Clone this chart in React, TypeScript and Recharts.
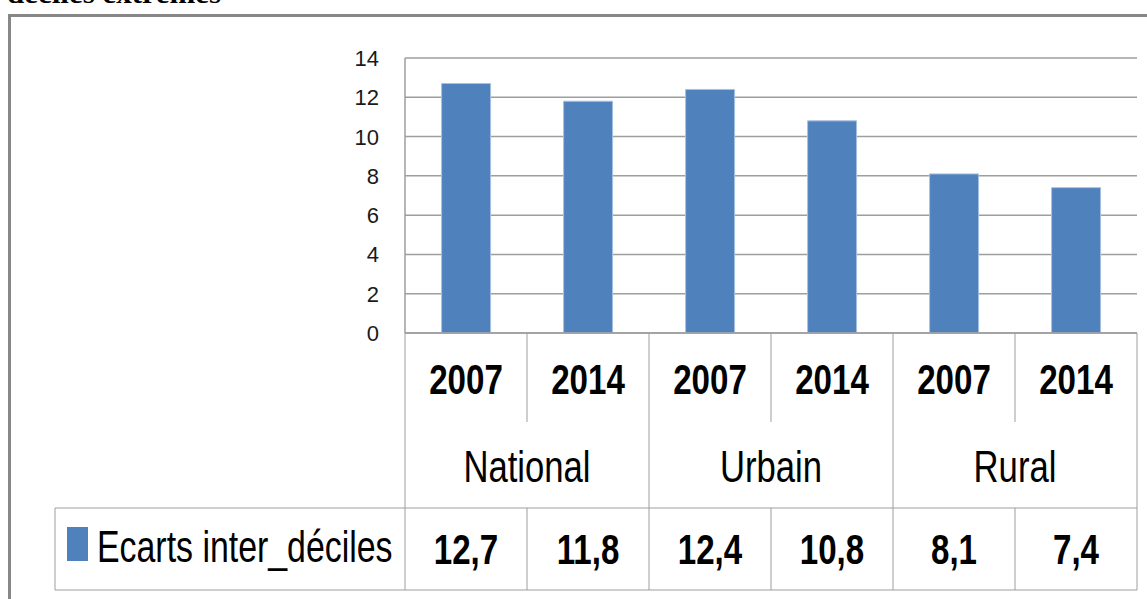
import React from 'react';
import { BarChart, Bar, XAxis, YAxis, CartesianGrid } from 'recharts';

const areas = ['National', 'Urbain', 'Rural'];
const years = ['2007', '2014', '2007', '2014', '2007', '2014'];
const ecarts = [12.7, 11.8, 12.4, 10.8, 8.1, 7.4];
const yTicks = [0, 2, 4, 6, 8, 10, 12, 14];
const seriesName = 'Ecarts inter_déciles';
const title = 'déciles extrêmes';

const data = years.map((yr, i) => ({
  key: `${areas[Math.floor(i / 2)]}-${yr}`,
  year: yr,
  area: areas[Math.floor(i / 2)],
  ecart: ecarts[i],
  label: ecarts[i].toFixed(1).replace('.', ','),
}));

const W = 1147;
const H = 599;
const margin = { top: 58, right: 10, bottom: 9, left: 365 };
const Y_W = 40;
const X_H = 257;
const BAND = (W - margin.left - margin.right - Y_W) / data.length;

const SANS = "'Liberation Sans', Arial, sans-serif";
const GRID = '#9e9e9e';
const BLUE = '#4F81BD';

// condensed text: Liberation Sans squeezed horizontally to look like the Calibri of the source
function NText({ x, y, size, bold, anchor = 'middle', children }: any) {
  return (
    <text
      transform={`translate(${x},${y}) scale(0.77,1)`}
      x={0}
      y={0}
      textAnchor={anchor}
      fontFamily={SANS}
      fontWeight={bold ? 'bold' : 'normal'}
      fontSize={size}
      fill="#000"
    >
      {children}
    </text>
  );
}

function YTick(props: any) {
  const { x, y, payload } = props;
  return (
    <text x={x} y={y + 8} textAnchor="end" fontFamily={SANS} fontSize={22} fill="#1a1a1a">
      {payload.value}
    </text>
  );
}

function TableTick(props: any) {
  const { x, y, index } = props;
  const d = data[index];
  if (!d) return null;
  const half = BAND / 2;
  const left = x - half;
  const right = x + half;
  const ln = { stroke: GRID, strokeWidth: 1 };
  return (
    <g>
      {index === 0 && (
        <g>
          <line x1={55} x2={left} y1={y + 175} y2={y + 175} {...ln} />
          <line x1={55} x2={left} y1={y + 257} y2={y + 257} {...ln} />
          <line x1={55} x2={55} y1={y + 175} y2={y + 257} {...ln} />
          <rect x={67} y={y + 194} width={21} height={34} fill={BLUE} />
          <NText x={97} y={y + 229} size={44} anchor="start">
            {seriesName}
          </NText>
        </g>
      )}
      <NText x={x} y={y + 61} size={43} bold>
        {d.year}
      </NText>
      {index % 2 === 1 ? (
        <g>
          <line x1={left} x2={left} y1={y} y2={y + 89} {...ln} />
          <line x1={left} x2={left} y1={y + 175} y2={y + 257} {...ln} />
          <NText x={left} y={y + 149} size={45}>
            {d.area}
          </NText>
        </g>
      ) : (
        <line x1={left} x2={left} y1={y} y2={y + 257} {...ln} />
      )}
      {index === data.length - 1 && <line x1={right} x2={right} y1={y} y2={y + 257} {...ln} />}
      <line x1={left} x2={right} y1={y + 175} y2={y + 175} {...ln} />
      <line x1={left} x2={right} y1={y + 257} y2={y + 257} {...ln} />
      <NText x={x} y={y + 231} size={43} bold>
        {d.label}
      </NText>
    </g>
  );
}

export default function App() {
  return (
    <div style={{ position: 'absolute', left: 0, top: 0, width: W, height: H, overflow: 'hidden', background: '#fff' }}>
      <svg width={400} height={20} style={{ position: 'absolute', left: 0, top: 0 }}>
        <text x={7} y={3} fontFamily="'Liberation Serif', serif" fontWeight="bold" fontSize={28} textLength={214} lengthAdjust="spacingAndGlyphs" fill="#000">
          {title}
        </text>
      </svg>
      <div
        style={{
          position: 'absolute',
          left: 8,
          top: 14,
          width: W + 20,
          height: H + 20,
          borderTop: '3px solid #878787',
          borderLeft: '3px solid #878787',
        }}
      />
      <div style={{ position: 'absolute', left: 0, top: 0 }}>
        <BarChart width={W} height={H} data={data} margin={margin} barCategoryGap="30%">
          <CartesianGrid vertical={false} stroke={GRID} strokeWidth={1.5} />
          <YAxis
            width={Y_W}
            domain={[0, 14]}
            ticks={yTicks}
            interval={0}
            tickLine={false}
            tickSize={0}
            tickMargin={26}
            axisLine={{ stroke: GRID, strokeWidth: 1.5 }}
            tick={(p: any) => <YTick {...p} />}
          />
          <XAxis
            dataKey="key"
            height={X_H}
            interval={0}
            tickLine={false}
            tickSize={0}
            tickMargin={0}
            axisLine={{ stroke: GRID, strokeWidth: 1.5 }}
            tick={(p: any) => <TableTick {...p} />}
          />
          <Bar dataKey="ecart" fill={BLUE} stroke="#a9c1e0" strokeWidth={1} isAnimationActive={false} />
        </BarChart>
      </div>
    </div>
  );
}
